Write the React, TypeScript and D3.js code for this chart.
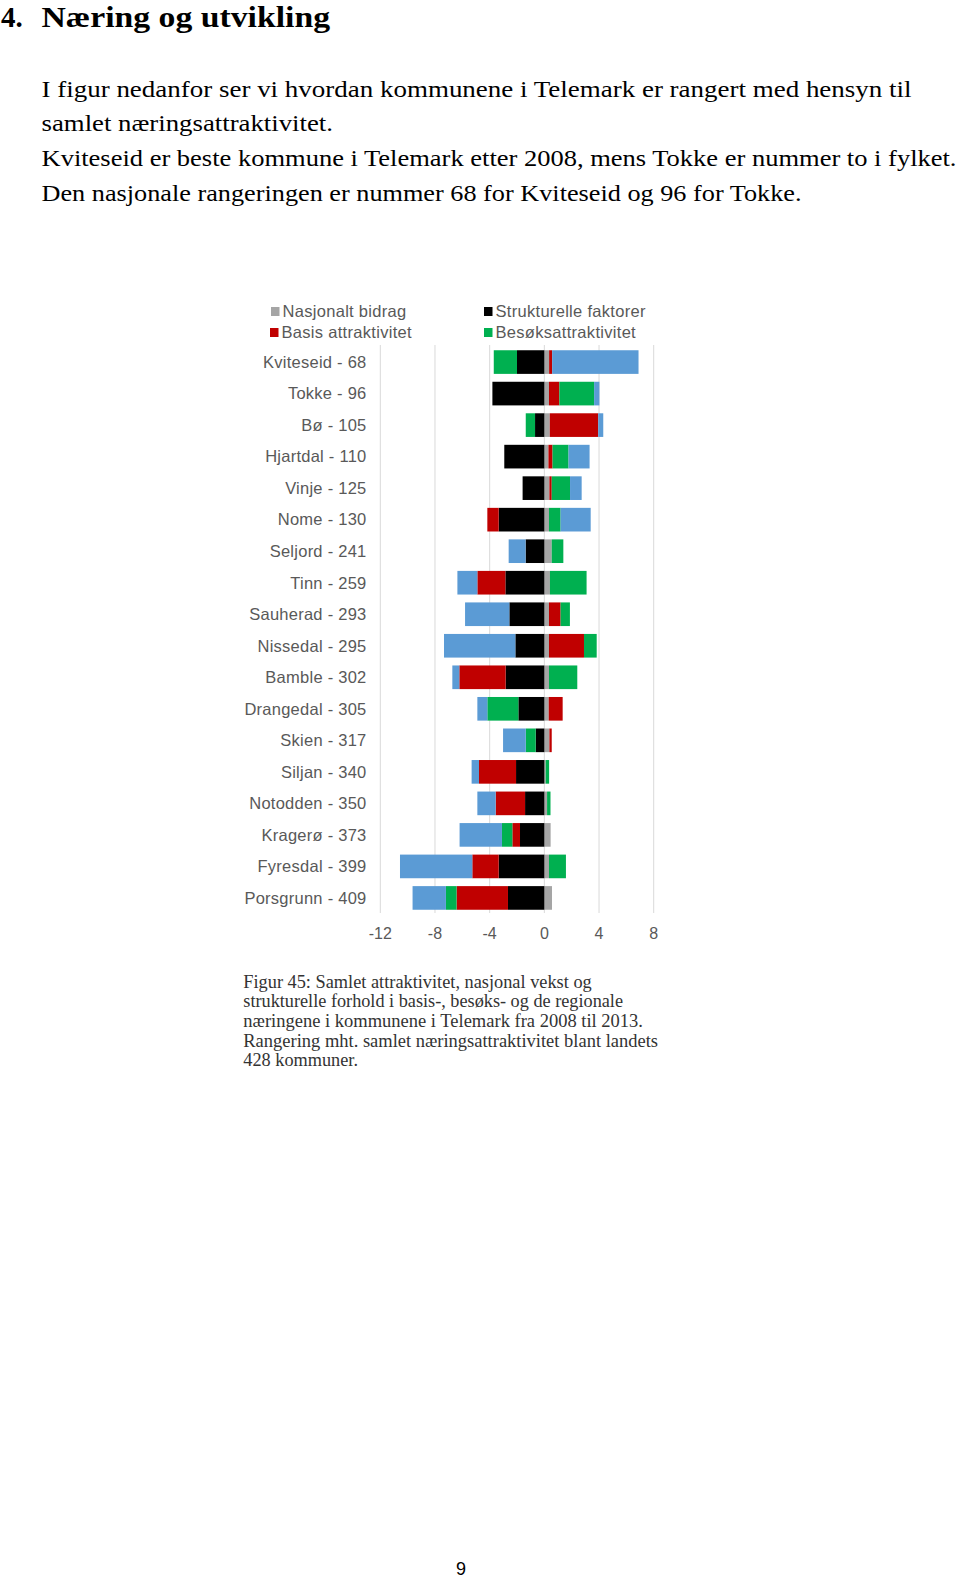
import React, { useEffect, useRef } from 'react'
import * as d3 from 'd3'

// municipalities, ranked (rank among all 428 in the label)
const categories = [
  'Kviteseid - 68', 'Tokke - 96', 'Bø - 105', 'Hjartdal - 110', 'Vinje - 125',
  'Nome - 130', 'Seljord - 241', 'Tinn - 259', 'Sauherad - 293', 'Nissedal - 295',
  'Bamble - 302', 'Drangedal - 305', 'Skien - 317', 'Siljan - 340', 'Notodden - 350',
  'Kragerø - 373', 'Fyresdal - 399', 'Porsgrunn - 409'
]

const nasjonalt = [0.35, 0.34, 0.4, 0.3, 0.37, 0.34, 0.54, 0.41, 0.34, 0.34, 0.34, 0.32, 0.37, 0.1, 0.2, 0.46, 0.34, 0.56]
const strukturelle = [-2.0, -3.8, -0.68, -2.93, -1.59, -3.34, -1.37, -2.85, -2.56, -2.12, -2.83, -1.9, -0.63, -2.07, -1.41, -1.78, -3.34, -2.66]
const basis = [0.22, 0.76, 3.54, 0.3, 0.17, -0.83, 0, -2.05, 0.85, 2.56, -3.39, 1.02, 0.17, -2.71, -2.15, -0.56, -1.93, -3.76]
const besok = [-1.7, 2.54, -0.68, 1.17, 1.34, 0.85, 0.85, 2.68, 0.68, 0.93, 2.07, -2.27, -0.73, 0.25, 0.25, -0.76, 1.24, -0.78]
const regional = [6.32, 0.39, 0.37, 1.54, 0.85, 2.2, -1.24, -1.46, -3.24, -5.22, -0.51, -0.73, -1.66, -0.54, -1.34, -3.1, -5.29, -2.44]

const xTicks = [-12, -8, -4, 0, 4, 8]

const keys = ['nasjonalt', 'strukturelle', 'basis', 'besok', 'regional']
const colors = {
  nasjonalt: '#a5a5a5',
  strukturelle: '#000000',
  basis: '#c00000',
  besok: '#00b050',
  regional: '#5b9bd5'
}

const heading = 'Næring og utvikling'
const bodyLines = [
  'I figur nedanfor ser vi hvordan kommunene i Telemark er rangert med hensyn til',
  'samlet næringsattraktivitet.',
  'Kviteseid er beste kommune i Telemark etter 2008, mens Tokke er nummer to i fylket.',
  'Den nasjonale rangeringen er nummer 68 for Kviteseid og 96 for Tokke.'
]
const bodyWidths = [870, 291.5, 915, 760]
const captionLines = [
  'Figur 45: Samlet attraktivitet, nasjonal vekst og',
  'strukturelle forhold i basis-, besøks- og de regionale',
  'næringene i kommunene i Telemark fra 2008 til 2013.',
  'Rangering mht. samlet næringsattraktivitet blant landets',
  '428 kommuner.'
]
const captionWidths = [348.4, 379.7, 399.7, 414.7, 114.7]

export default function App() {
  const ref = useRef<SVGSVGElement>(null)

  useEffect(() => {
    const svg = d3.select(ref.current)
    svg.selectAll('*').remove()

    // page text
    svg.append('text').attr('x', 1).attr('y', 27)
      .attr('font-family', 'Liberation Serif').attr('font-weight', 'bold').attr('font-size', 29)
      .text('4.')
    svg.append('text').attr('x', 41.5).attr('y', 27)
      .attr('font-family', 'Liberation Serif').attr('font-weight', 'bold').attr('font-size', 29)
      .attr('textLength', 288.5).attr('lengthAdjust', 'spacingAndGlyphs')
      .text(heading)

    svg.selectAll('text.body')
      .data(bodyLines)
      .enter()
      .append('text')
      .attr('class', 'body')
      .attr('x', 41.5)
      .attr('y', (d, i) => 96.5 + i * 34.7)
      .attr('font-family', 'Liberation Serif').attr('font-size', 23)
      .attr('textLength', (d, i) => bodyWidths[i]).attr('lengthAdjust', 'spacingAndGlyphs')
      .text(d => d)

    // chart
    const rows = categories.map((c, i) => ({
      name: c,
      nasjonalt: nasjonalt[i],
      strukturelle: strukturelle[i],
      basis: basis[i],
      besok: besok[i],
      regional: regional[i]
    }))

    const x = d3.scaleLinear().domain([-12, 8]).range([380.3, 653.7])
    const y = d3.scaleBand().domain(categories).range([346.3, 913.7]).paddingInner(0.25).paddingOuter(0.125)

    const stack = d3.stack().keys(keys).offset(d3.stackOffsetDiverging)
    const series = stack(rows as any)

    const chart = svg.append('g').attr('font-family', 'Liberation Sans, Arial, sans-serif')

    chart.selectAll('line.grid')
      .data(xTicks)
      .enter()
      .append('line')
      .attr('class', 'grid')
      .attr('x1', d => x(d)).attr('x2', d => x(d))
      .attr('y1', 345).attr('y2', 913)
      .attr('stroke', '#d9d9d9').attr('stroke-width', 1)

    chart.selectAll('text.tick')
      .data(xTicks)
      .enter()
      .append('text')
      .attr('class', 'tick')
      .attr('x', d => x(d)).attr('y', 939)
      .attr('text-anchor', 'middle')
      .attr('font-size', 16).attr('fill', '#595959')
      .text(d => d)

    chart.selectAll('text.cat')
      .data(categories)
      .enter()
      .append('text')
      .attr('class', 'cat')
      .attr('x', 366.5)
      .attr('y', d => (y(d) as number) + y.bandwidth() / 2 + 5.8)
      .attr('text-anchor', 'end')
      .attr('font-size', 16.5).attr('letter-spacing', 0.25).attr('fill', '#595959')
      .text(d => d)

    const groups = chart.selectAll('g.series')
      .data(series)
      .enter()
      .append('g')
      .attr('class', 'series')
      .attr('fill', (s: any) => colors[s.key])

    groups.selectAll('rect')
      .data((s: any) => s)
      .enter()
      .append('rect')
      .attr('x', (d: any) => x(Math.min(d[0], d[1])))
      .attr('width', (d: any) => Math.abs(x(d[1]) - x(d[0])))
      .attr('y', (d: any) => y(d.data.name) as number)
      .attr('height', y.bandwidth())

    // legend
    const legend = [
      { key: 'nasjonalt', label: 'Nasjonalt bidrag', lx: 271, ly: 311.5 },
      { key: 'basis', label: 'Basis attraktivitet', lx: 270, ly: 332.5 },
      { key: 'strukturelle', label: 'Strukturelle faktorer', lx: 484, ly: 311.5 },
      { key: 'besok', label: 'Besøksattraktivitet', lx: 484, ly: 332.5 }
    ]
    const items = chart.selectAll('g.legend')
      .data(legend)
      .enter()
      .append('g')
      .attr('class', 'legend')
    items.append('rect')
      .attr('x', d => d.lx).attr('y', d => d.ly - 4.5)
      .attr('width', 8.5).attr('height', 9)
      .attr('fill', d => colors[d.key])
    items.append('text')
      .attr('x', d => d.lx + 11.5).attr('y', d => d.ly + 5.8)
      .attr('font-size', 16.5).attr('letter-spacing', 0.3).attr('fill', '#595959')
      .text(d => d.label)

    // caption
    svg.selectAll('text.caption')
      .data(captionLines)
      .enter()
      .append('text')
      .attr('class', 'caption')
      .attr('x', 243.3)
      .attr('y', (d, i) => 987.5 + i * 19.7)
      .attr('font-family', 'Liberation Serif').attr('font-size', 18).attr('fill', '#333')
      .attr('textLength', (d, i) => captionWidths[i]).attr('lengthAdjust', 'spacingAndGlyphs')
      .text(d => d)

    svg.append('text').attr('x', 461).attr('y', 1575)
      .attr('text-anchor', 'middle')
      .attr('font-family', 'Liberation Sans, Arial, sans-serif').attr('font-size', 18)
      .text('9')
  }, [])

  return (
    <svg ref={ref} width={960} height={1578}
      style={{ position: 'absolute', left: 0, top: 0, background: '#fff' }} />
  )
}
